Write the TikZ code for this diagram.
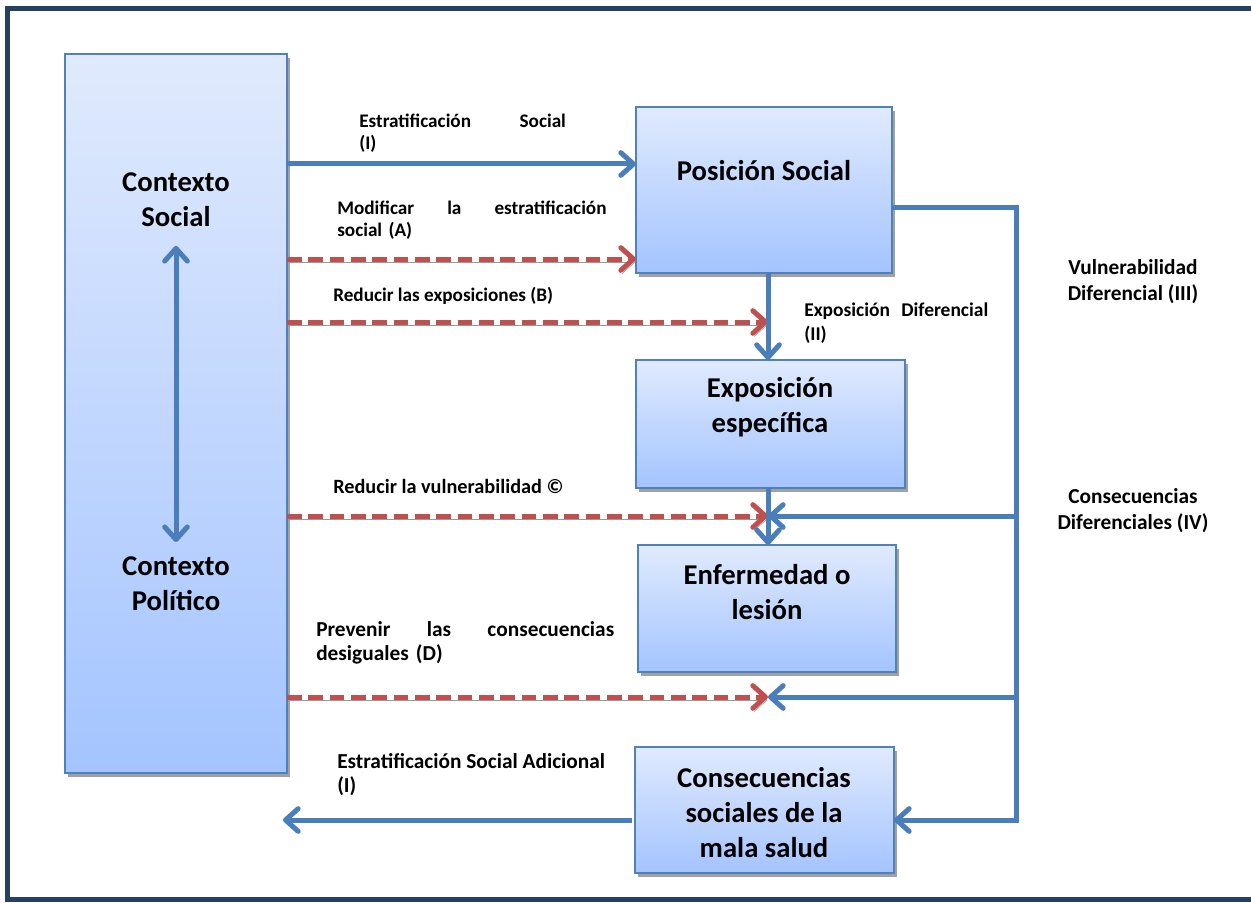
\documentclass[tikz,border=0pt]{standalone}
\usepackage{fontspec}
\setmainfont{Carlito}
\usetikzlibrary{arrows.meta,shadows}
\definecolor{framec}{RGB}{38,64,97}
\definecolor{boxborder}{RGB}{79,129,189}
\definecolor{boxtop}{RGB}{224,234,253}
\definecolor{boxbot}{RGB}{164,196,255}
\definecolor{lineblue}{RGB}{74,126,187}
\definecolor{arrred}{RGB}{192,80,77}
\begin{document}
\begin{tikzpicture}[x=0.75pt,y=-0.75pt,
  box/.style={draw=boxborder, line width=1.4pt, top color=boxtop, bottom color=boxbot,
    inner sep=0pt, outer sep=0pt,
    drop shadow={shadow xshift=2.5pt, shadow yshift=-3pt, fill=black!37, opacity=1}},
  big/.style={font=\bfseries\fontsize{21.5}{26.25}\selectfont, align=center, inner sep=0pt},
  lab/.style={font=\bfseries\fontsize{14.4}{16.5}\selectfont, inner sep=0pt, anchor=west, align=left},
  labl/.style={lab, font=\bfseries\fontsize{16}{18}\selectfont},
  side/.style={font=\bfseries\fontsize{16}{19.5}\selectfont, inner sep=0pt, align=center},
  conn/.style={draw=lineblue, line width=3.75pt, line join=miter,
    -{Straight Barb[round,length=9.5pt,width=17pt]}},
  dconn/.style={draw=lineblue, line width=3.75pt,
    {Straight Barb[round,length=9.5pt,width=17pt]}-{Straight Barb[round,length=9.5pt,width=17pt]}},
  reddash/.style={draw=arrred, line width=3.75pt, dash pattern=on 11pt off 5pt,
    -{Straight Barb[round,length=9.5pt,width=17pt]},
    preaction={draw=black!40, transform canvas={xshift=1pt,yshift=-2.4pt}}}
]
\useasboundingbox (0,0) rectangle (1251,902);
\clip (0,0) rectangle (1251,902);
\draw[framec, line width=3.9pt] (1251,8.5) -- (7.5,8.5) -- (7.5,899.5) -- (1251,899.5);

% boxes
\node[box, minimum width=166.5pt, minimum height=539.25pt] (ctx) at (176,413.5) {};
\node[box, minimum width=192pt, minimum height=124.5pt] (pos) at (764,190) {};
\node[box, minimum width=201.75pt, minimum height=96pt] (exp) at (770.5,424) {};
\node[box, minimum width=193.5pt, minimum height=95.25pt] (enf) at (767,608.5) {};
\node[box, minimum width=194.25pt, minimum height=94.5pt] (con) at (764.5,810) {};

% box texts
\node[big] (ctxs) at (176,200) {Contexto\\Social};
\node[big] (ctxp) at (176,584) {Contexto\\Político};
\node[big] (post) at (764,171) {Posición Social};
\node[big] (expt) at (770,407) {Exposición\\específica};
\node[big] (enft) at (767,592) {Enfermedad o\\lesión};
\node[big] (cont) at (764,813) {Consecuencias\\sociales de la\\mala salud};

% labels
\node[lab, text width=155pt] (lI) at (359,133) {Estratificación\hfill Social\\(I)};
\node[lab, text width=202pt] (lA) at (337,220) {Modificar\hfill la\hfill estratificación\\social (A)};
\node[lab] (lB) at (333,296) {Reducir las exposiciones (B)};
\node[lab, font=\bfseries\fontsize{14.6}{18}\selectfont, text width=138pt] (lII) at (804,323) {\mbox{Exposición}\hfill\mbox{Diferencial}\\(II)};
\node[side] (lIII) at (1133,281.5) {Vulnerabilidad\\Diferencial (III)};
\node[lab, font=\bfseries\fontsize{15.2}{18}\selectfont] (lC) at (333,486) {Reducir la vulnerabilidad ©};
\node[side] (lIV) at (1133,511) {Consecuencias\\Diferenciales (IV)};
\node[labl, text width=223.5pt] (lD) at (316,643) {Prevenir\hfill las\hfill consecuencias\\desiguales (D)};
\node[labl] (lI2) at (337,775) {Estratificación Social Adicional\\(I)};

% reference coordinates
\coordinate (mx) at (768,0);
\coordinate (bx) at (1016,0);
\coordinate (yI) at (0,164);
\coordinate (yV) at (0,208);
\coordinate (yA) at (0,259);
\coordinate (yB) at (0,322);
\coordinate (yC) at (0,516);
\coordinate (yD) at (0,697);
\coordinate (yE) at (0,820);
\coordinate (bl) at (283,820);

% red dashed arrows
\draw[reddash] (ctx.east |- yA) -- (pos.west |- yA);
\draw[reddash] (ctx.east |- yB) -- (mx |- yB);
\draw[reddash] (ctx.east |- yC) -- (mx |- yC);
\draw[reddash] (ctx.east |- yD) -- (mx |- yD);

% blue connectors
\draw[conn] (ctx.east |- yI) -- (pos.west |- yI);
\draw[conn] (pos.south -| mx) -- (exp.north -| mx);
\draw[conn] (exp.south -| mx) -- (enf.north -| mx);
\draw[conn] (pos.east |- yV) -| (bx |- yE) -- (con.east |- yE);
\draw[conn] (bx |- yC) -- (mx |- yC);
\draw[conn] (bx |- yD) -- (mx |- yD);
\draw[conn] ([xshift=-2.5pt]con.west |- yE) -- (bl);
\draw[dconn] ([yshift=-14pt]ctxs.south) -- ([yshift=11pt]ctxp.north);
\end{tikzpicture}
\end{document}
